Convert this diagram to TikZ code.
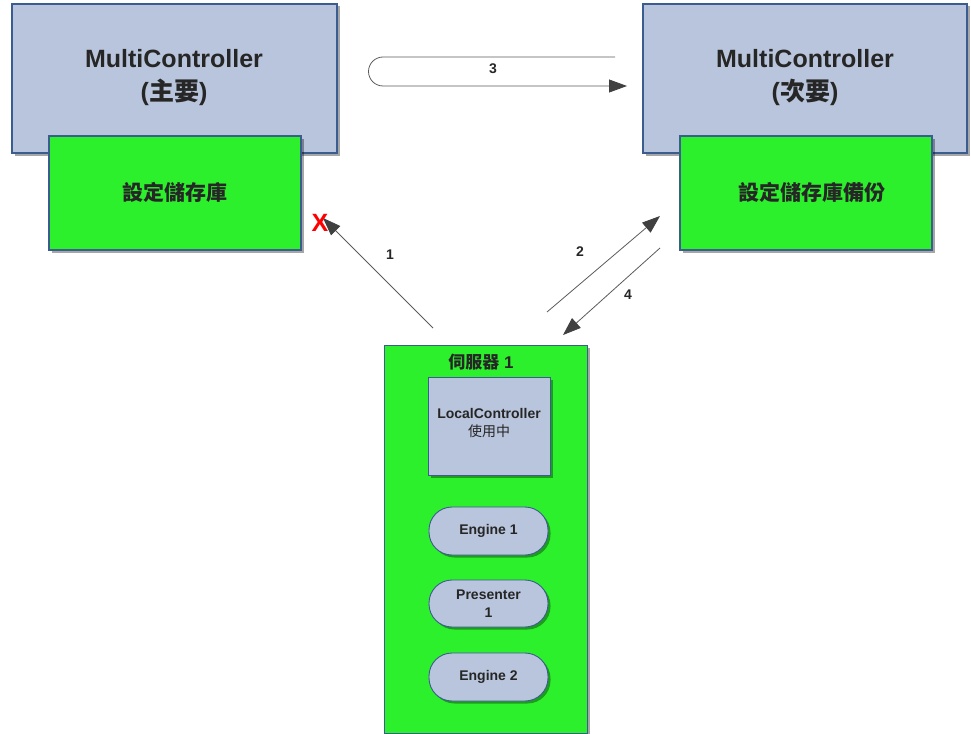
\documentclass[tikz,border=0pt]{standalone}
\usepackage{fontspec}
\setmainfont{Liberation Sans}
\newfontfamily\cjk{Noto Sans CJK TC}
\usetikzlibrary{arrows.meta,shadows}
\definecolor{bluefill}{HTML}{B9C5DC}
\definecolor{blueline}{HTML}{3B5C8F}
\definecolor{greenfill}{HTML}{2DF02D}
\definecolor{arrowgray}{HTML}{5A5A5A}
\tikzset{
  shad/.style={drop shadow={shadow xshift=2.5pt,shadow yshift=-2.5pt,fill=black,opacity=0.35}},
  mcbox/.style={draw=blueline,line width=1.2pt,fill=bluefill,shad,inner sep=0pt},
  repobox/.style={draw=blueline,line width=1.2pt,fill=greenfill,shad,inner sep=0pt},
  pill/.style={draw=blueline,line width=0.9pt,fill=bluefill,shad,rounded corners=23pt,inner sep=0pt},
  conn/.style={draw=arrowgray,line width=0.8pt,-{Triangle[length=18pt,width=13pt,color=black!75]}},
  lbl/.style={font=\bfseries\fontsize{14}{15}\selectfont,text=black!85},
  smalltext/.style={font=\bfseries\fontsize{14}{18}\selectfont,text=black!85}
}
\begin{document}
\begin{tikzpicture}[x=1pt,y=-1pt]
\useasboundingbox (0,0) rectangle (971,733);
% left primary
\node[mcbox,minimum width=325pt,minimum height=149pt] (mc1) at (174.5,78.5) {};
\node[align=center,font=\bfseries\fontsize{25}{33}\selectfont,text=black!85] (mc1t) at (174,78) {MultiController\\({\cjk 主要})};
\node[repobox,minimum width=252pt,minimum height=114pt] (repo1) at (175,193) {};
\node[font=\cjk\bfseries\fontsize{21}{22}\selectfont,text=black!85] (repo1t) at (175,192) {設定儲存庫};
% right secondary
\node[mcbox,minimum width=324pt,minimum height=149pt] (mc2) at (805,78.5) {};
\node[align=center,font=\bfseries\fontsize{25}{33}\selectfont,text=black!85] (mc2t) at (805,78) {MultiController\\({\cjk 次要})};
\node[repobox,minimum width=252pt,minimum height=114pt] (repo2) at (806,193) {};
\node[font=\cjk\bfseries\fontsize{21}{22}\selectfont,text=black!85] (repo2t) at (812,192) {設定儲存庫備份};
% server
\node[repobox,minimum width=203pt,minimum height=388pt,anchor=north west] (srv) at (384,345) {};
\node[font=\bfseries\fontsize{17}{18}\selectfont,text=black!85] (srvt) at (481,362) {{\cjk 伺服器} 1};
\node[mcbox,line width=0.9pt,minimum width=122pt,minimum height=98pt] (lc) at (489,426) {};
\node[align=center,smalltext] (lct) at (489,423) {LocalController\\{\cjk\mdseries 使用中}};
\node[pill,minimum width=119pt,minimum height=48pt,smalltext] (e1) at (488.5,531) {Engine 1};
\node[pill,minimum width=119pt,minimum height=47pt,align=center,smalltext] (p1) at (488.5,603.5) {Presenter\\1};
\node[pill,minimum width=119pt,minimum height=48pt,smalltext] (e2) at (488.5,677) {Engine 2};
% arrow 3
\coordinate (a3s) at (615,57);
\coordinate (a3e) at (627,86);
\draw[conn] (a3s) -- (383,57) arc[start angle=90,end angle=270,radius=14.5pt] -- (a3e);
\node[lbl] (l3) at (493,69) {3};
% arrow 1
\coordinate (a1s) at (433,328);
\coordinate (a1e) at (323,218);
\draw[conn] (a1s) -- (a1e);
\node[lbl] (l1) at (390,255) {1};
\node[font=\bfseries\fontsize{25}{25}\selectfont,text=red] (x) at (320,223) {X};
% arrow 2
\coordinate (a2s) at (547,312);
\coordinate (a2e) at (660,216);
\draw[conn] (a2s) -- (a2e);
\node[lbl] (l2) at (580,252) {2};
% arrow 4
\coordinate (a4s) at (660,248);
\coordinate (a4e) at (563,335);
\draw[conn] (a4s) -- (a4e);
\node[lbl] (l4) at (628,295) {4};
\end{tikzpicture}
\end{document}
